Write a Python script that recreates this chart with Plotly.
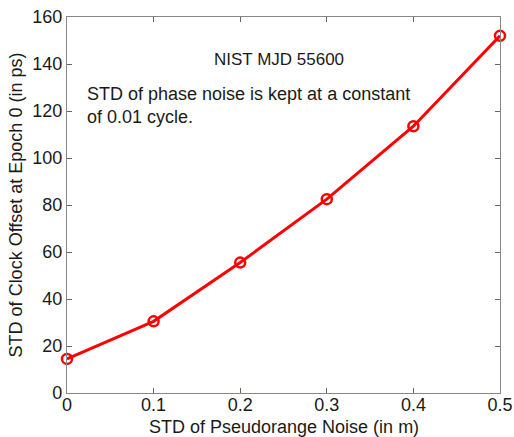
import plotly.graph_objects as go

noise_std = [0, 0.1, 0.2, 0.3, 0.4, 0.5]
clock_std = [14.5, 30.5, 55.5, 82.5, 113.5, 152]
x_ticks = [0, 0.1, 0.2, 0.3, 0.4, 0.5]
x_tick_text = ["0", "0.1", "0.2", "0.3", "0.4", "0.5"]
y_ticks = [0, 20, 40, 60, 80, 100, 120, 140, 160]

FONT = "Liberation Sans, Arial, sans-serif"
TXT = "#1a1a1a"

fig = go.Figure()
fig.add_trace(go.Scatter(
    x=noise_std, y=clock_std, mode="lines+markers",
    line=dict(color="#ff0000", width=3),
    marker=dict(symbol="circle-open", size=10, color="#ff0000", line=dict(width=2.5, color="#ff0000")),
    showlegend=False, cliponaxis=False,
))

axis_common = dict(
    showgrid=False, zeroline=False, showline=True, linecolor="#888888", linewidth=1.3,
    mirror="allticks", ticks="inside", ticklen=5, tickcolor="#666666",
    tickfont=dict(family=FONT, size=18, color=TXT), automargin=False,
)
fig.update_xaxes(range=[0, 0.5], tickvals=x_ticks, ticktext=x_tick_text, ticklabelstandoff=-5,
                 **axis_common)
fig.update_yaxes(range=[0, 160], tickvals=y_ticks, ticklabelstandoff=0,
                 title=dict(text="STD of Clock Offset at Epoch 0 (in ps)", font=dict(family=FONT, size=18, color=TXT), standoff=4),
                 **axis_common)

fig.add_annotation(x=0.5, y=-0.09, xref="x domain", yref="paper", xanchor="center", yanchor="middle",
                   text="STD of Pseudorange Noise (in m)", showarrow=False, borderpad=0,
                   font=dict(family=FONT, size=18, color=TXT))
fig.add_annotation(x=0.49, y=0.886, xref="x domain", yref="paper", xanchor="center", yanchor="middle",
                   text="NIST MJD 55600", showarrow=False, font=dict(family=FONT, size=17, color=TXT))
fig.add_annotation(x=0.042, y=0.764, xref="x domain", yref="paper", xanchor="left", yanchor="middle",
                   align="left", text="STD of phase noise is kept at a constant<br>of 0.01 cycle.", showarrow=False,
                   font=dict(family=FONT, size=18, color=TXT))

fig.update_layout(
    width=514, height=437,
    margin=dict(l=67, r=14, t=17, b=44),
    paper_bgcolor="white", plot_bgcolor="white",
)
fig.write_html("out.html")
